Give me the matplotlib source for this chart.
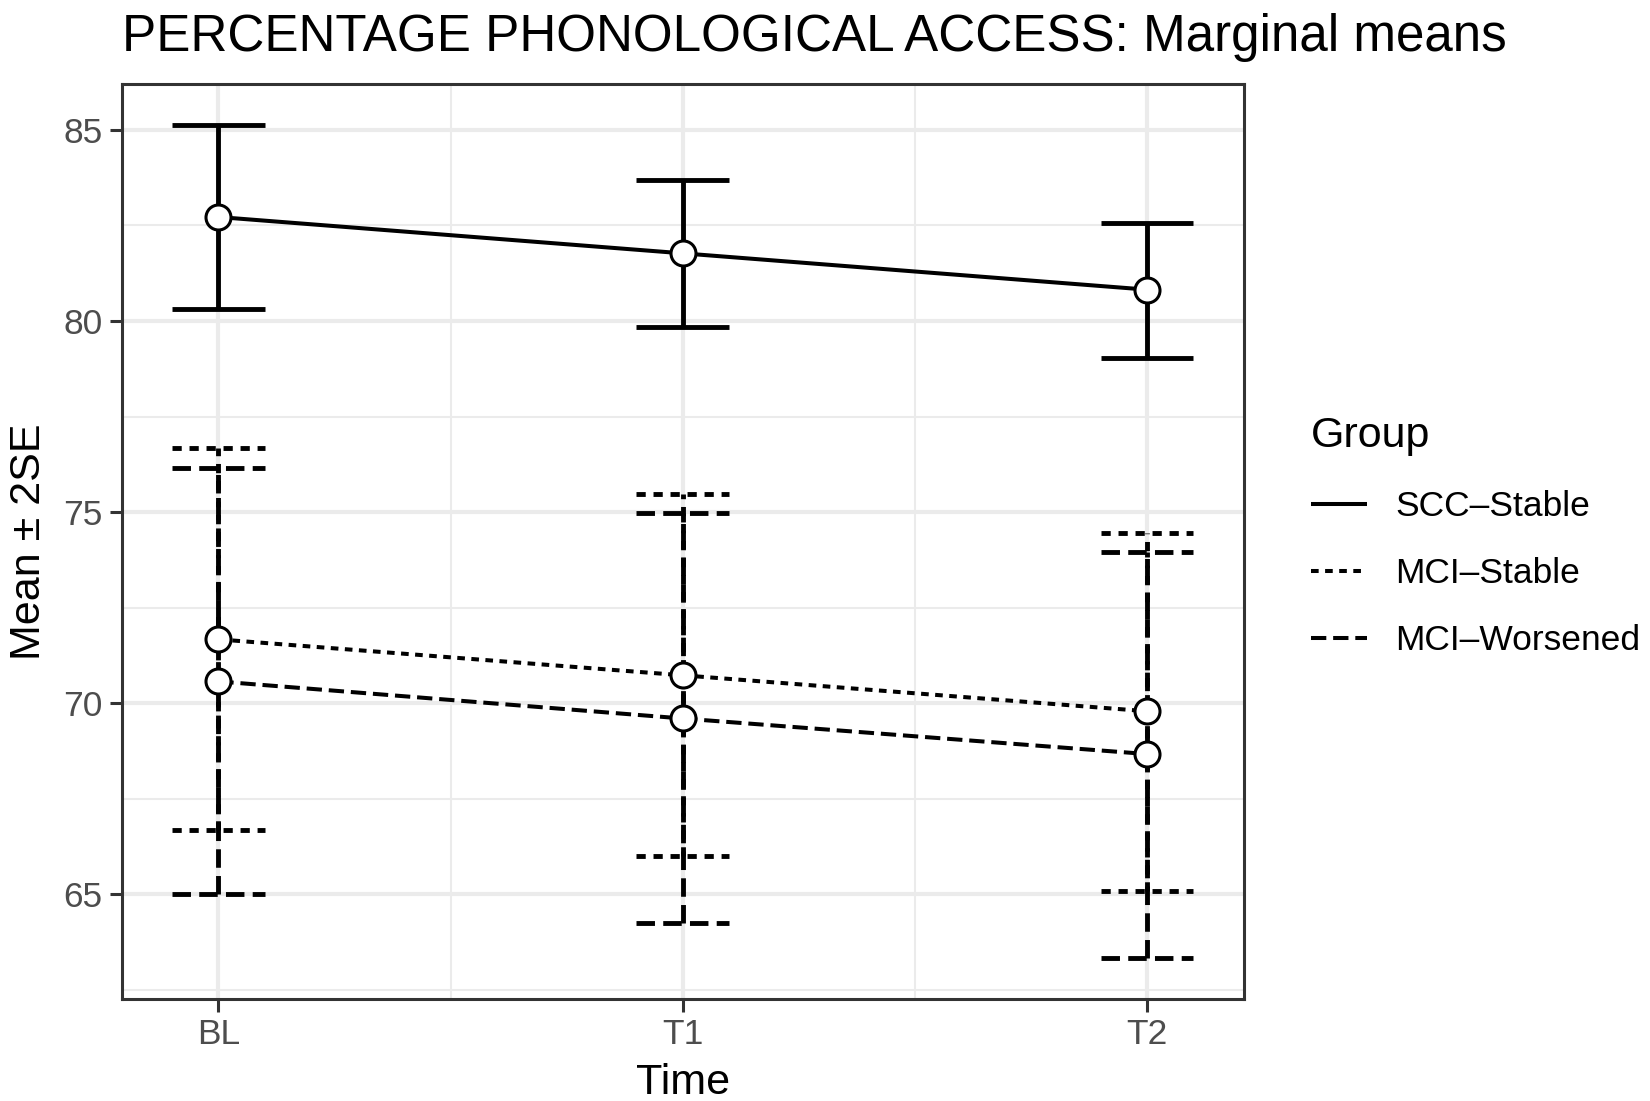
import matplotlib
matplotlib.use("Agg")
import matplotlib.pyplot as plt
import numpy as np

plt.rcParams['font.family'] = ['Liberation Sans', 'DejaVu Sans']
plt.rcParams['lines.scale_dashes'] = True

# data
times = ["BL", "T1", "T2"]
groups = ["SCC\u2013Stable", "MCI\u2013Stable", "MCI\u2013Worsened"]

scc_mean = [82.72, 81.77, 80.82]
scc_lo = [80.32, 79.83, 79.03]
scc_hi = [85.12, 83.69, 82.57]

mcis_mean = [71.67, 70.73, 69.79]
mcis_lo = [66.69, 66.00, 65.09]
mcis_hi = [76.67, 75.47, 74.46]

mciw_mean = [70.57, 69.60, 68.67]
mciw_lo = [65.01, 64.25, 63.33]
mciw_hi = [76.15, 74.98, 73.96]

means = [scc_mean, mcis_mean, mciw_mean]
lows = [scc_lo, mcis_lo, mciw_lo]
highs = [scc_hi, mcis_hi, mciw_hi]
styles = ['-', (0, (1.9, 1.6)), (0, (3.8, 1.7))]

fig = plt.figure(figsize=(16.5, 11.01), dpi=100)
ax = fig.add_axes([0.0739, 0.0926, 0.754 - 0.0739, 0.9237 - 0.0926])

x = np.arange(len(times))
cap = 0.1
eb_lw = 3.5
ln_lw = 2.9

for m, lo, hi, ls, g in zip(means, lows, highs, styles, groups):
    ax.vlines(x, lo, hi, colors='black', linestyles=ls, lw=eb_lw, zorder=3, capstyle='butt')
    ax.hlines(lo, x - cap, x + cap, colors='black', linestyles=ls, lw=eb_lw, zorder=3, capstyle='butt')
    ax.hlines(hi, x - cap, x + cap, colors='black', linestyles=ls, lw=eb_lw, zorder=3, capstyle='butt')
    ax.plot(x, m, color='black', linestyle=ls, lw=ln_lw, zorder=4, label=g,
            solid_capstyle='butt', dash_capstyle='butt')
    ax.plot(x, m, linestyle='none', marker='o', ms=18, mfc='white', mec='black', mew=2.2, zorder=5)

ax.set_xlim(-0.2076, 2.209)
ax.set_ylim(62.26, 86.2)
ax.set_xticks(x)
ax.set_xticklabels(times)
ax.set_yticks([65, 70, 75, 80, 85])
ax.set_xticks([0.5, 1.5], minor=True)
ax.set_yticks([62.5, 67.5, 72.5, 77.5, 82.5], minor=True)
ax.grid(which='major', color='#EBEBEB', lw=3.0, zorder=0)
ax.grid(which='minor', color='#EBEBEB', lw=1.5, zorder=0)
ax.set_axisbelow(True)
ax.tick_params(which='major', length=9, width=2.2, color='#333333', labelcolor='#4D4D4D',
               labelsize=25.5, pad=5)
ax.tick_params(which='minor', length=0)
for s in ax.spines.values():
    s.set_color('#333333')
    s.set_linewidth(2.2)

ax.set_xlabel("Time", fontsize=31, labelpad=8)
ax.set_ylabel("Mean \u00b1 2SE", fontsize=31, labelpad=10)

fig.text(0.0739, 0.9537, "PERCENTAGE PHONOLOGICAL ACCESS: Marginal means",
         fontsize=36.8, ha='left', va='baseline')

leg = ax.legend(title="Group", loc='center left', bbox_to_anchor=(1.047, 0.505),
                frameon=False, fontsize=25.5, title_fontsize=31, handlelength=1.57,
                handletextpad=0.8, labelspacing=0.96, alignment='left', borderaxespad=0)

fig.savefig("out.png", dpi=100)
